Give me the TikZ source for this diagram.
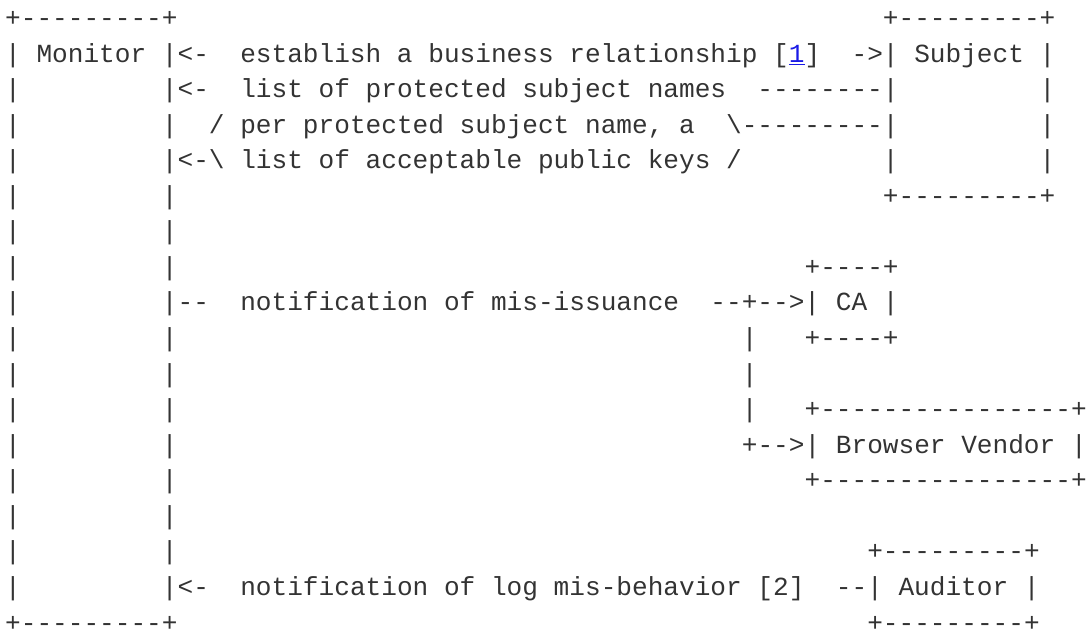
\documentclass[tikz,border=0pt]{standalone}
\usepackage{fontspec}
\setmonofont{Liberation Mono}
\definecolor{ink}{HTML}{333333}
\definecolor{linkblue}{HTML}{1A1AE6}
\newlength\cw
\newcommand\gap[1]{\hspace*{#1\cw}}
\newcommand\reflink[1]{{\color{linkblue}\underline{#1}}}

\begin{document}
\settowidth{\cw}{\ttfamily\fontsize{13.06pt}{17pt}\selectfont 0}
\begin{tikzpicture}[x=0.5pt, y=0.5pt, row/.style = {anchor=base west, inner sep=0pt, outer sep=0pt, text=ink, font=\ttfamily\fontsize{13.06pt}{17pt}\selectfont}]
  \useasboundingbox (0,0) rectangle (1087,-630);
  \node[row] (r0) at (5.2,-26.5) {+---------+\gap{45}+---------+};
  \node[row] (r1) at (5.2,-62.06) {| Monitor |<-\gap{2}establish a business relationship [\reflink{1}]\gap{2}->| Subject |};
  \node[row] (r2) at (5.2,-97.62) {|\gap{9}|<-\gap{2}list of protected subject names\gap{2}--------|\gap{9}|};
  \node[row] (r3) at (5.2,-133.18) {|\gap{9}|\gap{2}/ per protected subject name, a\gap{2}\textbackslash---------|\gap{9}|};
  \node[row] (r4) at (5.2,-168.74) {|\gap{9}|<-\textbackslash{} list of acceptable public keys /\gap{9}|\gap{9}|};
  \node[row] (r5) at (5.2,-204.3) {|\gap{9}|\gap{45}+---------+};
  \node[row] (r6) at (5.2,-239.86) {|\gap{9}|};
  \node[row] (r7) at (5.2,-275.42) {|\gap{9}|\gap{40}+----+};
  \node[row] (r8) at (5.2,-310.98) {|\gap{9}|--\gap{2}notification of mis-issuance\gap{2}--+-->| CA |};
  \node[row] (r9) at (5.2,-346.54) {|\gap{9}|\gap{36}|\gap{3}+----+};
  \node[row] (r10) at (5.2,-382.1) {|\gap{9}|\gap{36}|};
  \node[row] (r11) at (5.2,-417.66) {|\gap{9}|\gap{36}|\gap{3}+----------------+};
  \node[row] (r12) at (5.2,-453.22) {|\gap{9}|\gap{36}+-->| Browser Vendor |};
  \node[row] (r13) at (5.2,-488.78) {|\gap{9}|\gap{40}+----------------+};
  \node[row] (r14) at (5.2,-524.34) {|\gap{9}|};
  \node[row] (r15) at (5.2,-559.9) {|\gap{9}|\gap{44}+---------+};
  \node[row] (r16) at (5.2,-595.46) {|\gap{9}|<-\gap{2}notification of log mis-behavior [2]\gap{2}--| Auditor |};
  \node[row] (r17) at (5.2,-631.02) {+---------+\gap{44}+---------+};
\end{tikzpicture}
\end{document}
